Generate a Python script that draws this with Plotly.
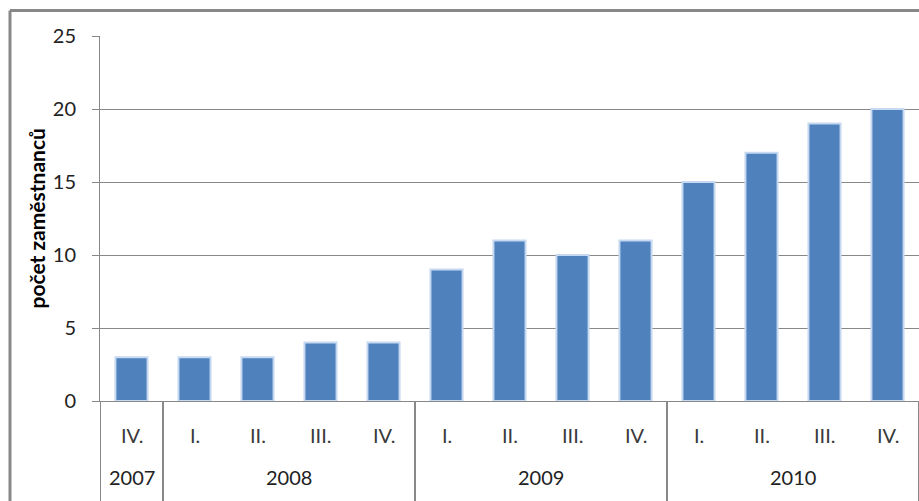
import plotly.graph_objects as go

years = ["2007", "2008", "2008", "2008", "2008", "2009", "2009", "2009", "2009",
         "2010", "2010", "2010", "2010"]
quarters = ["IV.", "I.", "II.", "III.", "IV.", "I.", "II.", "III.", "IV.",
            "I.", "II.", "III.", "IV."]
values = [3, 3, 3, 4, 4, 9, 11, 10, 11, 15, 17, 19, 20]
y_ticks = [0, 5, 10, 15, 20, 25]
y_title = "počet zaměstnanců"

FONT = "Lato"
categories = [f"{y} {q}" for y, q in zip(years, quarters)]

fig = go.Figure()
fig.add_trace(go.Bar(
    x=categories,
    y=values,
    marker=dict(color="#4F81BD", line=dict(color="#C6D9F1", width=2)),
))

annotations = []
shapes = []
for cat, q in zip(categories, quarters):
    annotations.append(dict(x=cat, xref="x", y=0, yref="paper", yshift=-34,
                            text=q, showarrow=False, yanchor="middle",
                            font=dict(family=FONT, size=20, color="#3a3a3a")))

# year groups
groups = []
for i, y in enumerate(years):
    if not groups or groups[-1][0] != y:
        groups.append([y, i, i])
    else:
        groups[-1][2] = i
for y, i0, i1 in groups:
    annotations.append(dict(x=(i0 + i1) / 2, xref="x", y=0, yref="paper", yshift=-76,
                            text=y, showarrow=False, yanchor="middle",
                            font=dict(family=FONT, size=20, color="#222")))
    shapes.append(dict(type="line", xref="x", yref="paper", x0=i0 - 0.5, x1=i0 - 0.5,
                       y0=0, y1=-0.3, line=dict(color="#888", width=2)))
shapes.append(dict(type="line", xref="x", yref="paper", x0=len(years) - 0.5, x1=len(years) - 0.5,
                   y0=0, y1=-0.3, line=dict(color="#888", width=2)))

# y-axis title
annotations.append(dict(x=-0.0781, xref="paper", y=0.5, yref="paper", text=f"<b>{y_title}</b>",
                        textangle=-90, showarrow=False, xanchor="center", yanchor="middle",
                        font=dict(family=FONT, size=21, color="#000")))

# outer frame
shapes += [
    dict(type="line", xref="paper", yref="paper", x0=-0.1099, x1=-0.1099, y0=-0.4, y1=1.07,
         line=dict(color="#888", width=3)),
    dict(type="line", xref="paper", yref="paper", x0=-0.1099, x1=1.1, y0=1.07, y1=1.07,
         line=dict(color="#888", width=3)),
]

fig.update_layout(
    width=919, height=501,
    margin=dict(l=100, r=0, t=36, b=100),
    paper_bgcolor="white", plot_bgcolor="white",
    bargap=0.49,
    showlegend=False,
    font=dict(family=FONT, size=20, color="#222"),
    xaxis=dict(
        type="category",
        showline=True, linecolor="#888", linewidth=1,
        showgrid=False, showticklabels=False, ticks="",
        range=[-0.5, len(years) - 0.5],
    ),
    yaxis=dict(
        range=[0, 25], tickvals=y_ticks,
        showgrid=True, gridcolor="#888", gridwidth=1,
        showline=True, linecolor="#888", linewidth=1,
        ticks="outside", ticklen=7, tickcolor="#888",
        ticklabelstandoff=12,
        tickfont=dict(family=FONT, size=20, color="#222"),
        zeroline=False,
    ),
    annotations=annotations,
    shapes=shapes,
)

fig.write_html("out.html")
